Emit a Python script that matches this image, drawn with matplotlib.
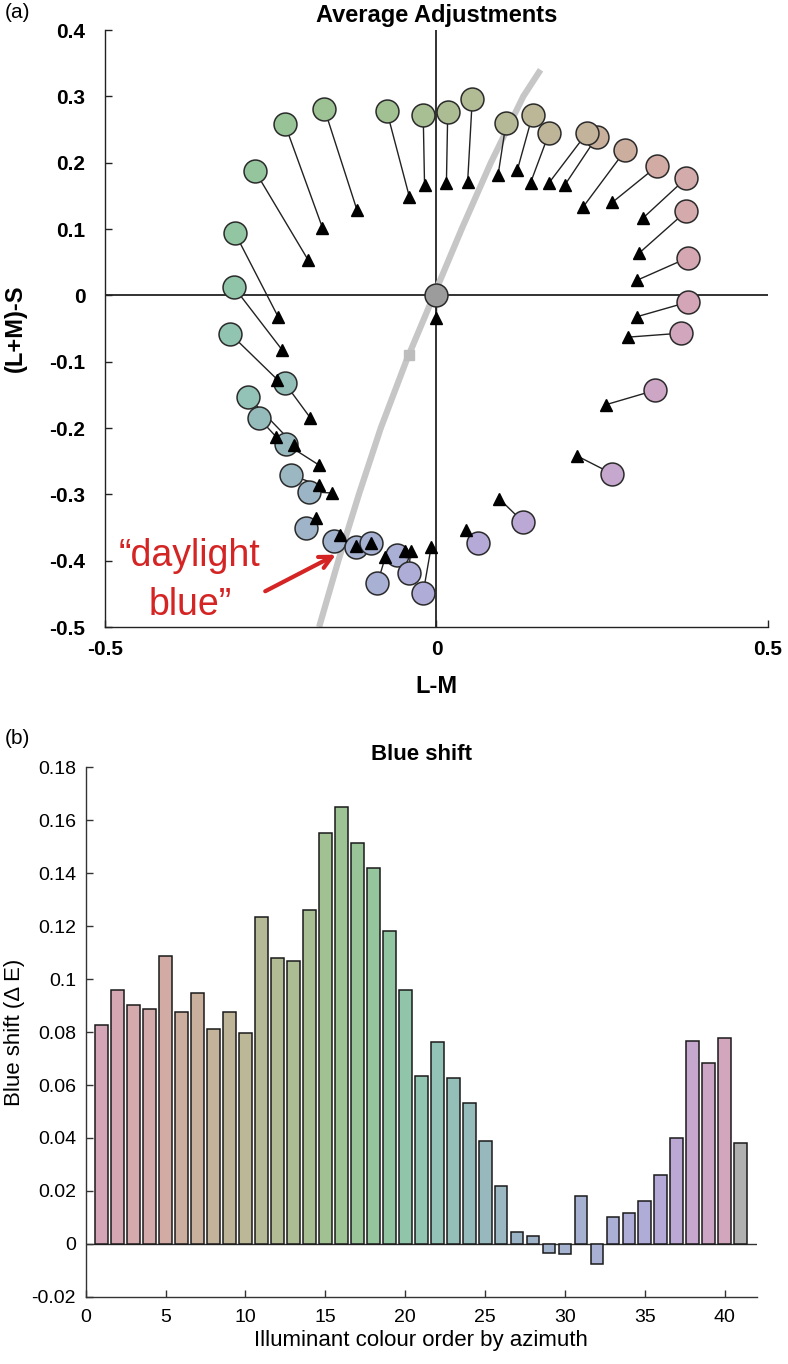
import matplotlib
matplotlib.use('Agg')
import matplotlib.pyplot as plt
from matplotlib.ticker import FuncFormatter

plt.rcParams['font.family'] = ['Liberation Sans', 'DejaVu Sans']
plt.rcParams['axes.unicode_minus'] = False

# ---- panel (a): illuminant settings (circles) and average adjustments (triangles), ordered by azimuth
ill_lm = [0.380, 0.380, 0.377, 0.377, 0.333, 0.285, 0.242, 0.227, 0.170, 0.145,
          0.105, 0.054, 0.017, -0.020, -0.075, -0.169, -0.229, -0.274, -0.304, -0.306,
          -0.311, -0.284, -0.229, -0.268, -0.227, -0.220, -0.192, -0.197, -0.155, -0.122,
          -0.099, -0.089, -0.059, -0.042, -0.020, 0.063, 0.131, 0.265, 0.330, 0.369, 0.0]
ill_s = [-0.010, 0.057, 0.127, 0.177, 0.195, 0.219, 0.239, 0.245, 0.245, 0.272,
         0.260, 0.296, 0.277, 0.272, 0.278, 0.281, 0.259, 0.188, 0.094, 0.013,
         -0.058, -0.153, -0.132, -0.185, -0.224, -0.271, -0.296, -0.351, -0.371, -0.379,
         -0.374, -0.434, -0.391, -0.419, -0.448, -0.374, -0.342, -0.269, -0.143, -0.057, 0.0]
adj_lm = [0.303, 0.303, 0.306, 0.312, 0.265, 0.221, 0.194, 0.170, 0.142, 0.122,
          0.093, 0.047, 0.015, -0.018, -0.041, -0.120, -0.172, -0.194, -0.239, -0.233,
          -0.240, -0.215, -0.190, -0.242, -0.177, -0.177, -0.157, -0.182, -0.146, -0.122,
          -0.099, -0.077, -0.047, -0.039, -0.008, 0.045, 0.095, 0.212, 0.255, 0.289, 0.0]
adj_s = [-0.032, 0.023, 0.064, 0.117, 0.140, 0.133, 0.167, 0.170, 0.170, 0.189,
         0.182, 0.171, 0.170, 0.167, 0.149, 0.129, 0.102, 0.054, -0.032, -0.082,
         -0.127, -0.225, -0.185, -0.213, -0.256, -0.286, -0.298, -0.336, -0.361, -0.378,
         -0.373, -0.394, -0.386, -0.386, -0.379, -0.354, -0.307, -0.242, -0.165, -0.063, -0.034]

# daylight locus
locus_lm = [-0.177, -0.148, -0.117, -0.084, -0.046, -0.004, 0.038, 0.082, 0.131, 0.157]
locus_s = [-0.500, -0.400, -0.300, -0.200, -0.100, 0.000, 0.100, 0.200, 0.300, 0.340]

# ---- panel (b): blue shift per illuminant
order = list(range(1, 42))
blue_shift = [0.0825, 0.0958, 0.0904, 0.0887, 0.1088, 0.0875, 0.0946, 0.0812, 0.0875, 0.0796,
              0.1233, 0.1078, 0.1070, 0.1261, 0.1551, 0.1651, 0.1514, 0.1418, 0.1183, 0.0960,
              0.0635, 0.0762, 0.0626, 0.0531, 0.0387, 0.0219, 0.0046, 0.0030, -0.0035, -0.0038,
              0.0182, -0.0076, 0.0101, 0.0118, 0.0163, 0.0259, 0.0398, 0.0768, 0.0684, 0.0777,
              0.0381]

colours = ['#d3a5b6', '#d4a7b2', '#d5aaad', '#d3abab', '#d2aca4', '#ccae9f', '#c8b09c', '#c3b39a',
           '#beb598', '#bbb797', '#b6b995', '#b1bb94', '#adbd93', '#a7bf93', '#a2c193', '#9dc395',
           '#98c498', '#94c59c', '#92c6a2', '#90c5a9', '#91c4b1', '#93c2b6', '#93bfb8', '#95bcbb',
           '#97b9be', '#9ab7c2', '#9cb5c6', '#9fb4c9', '#a2b3cd', '#a5b2d0', '#a6b1d2', '#a8b0d4',
           '#aaafd6', '#adadd7', '#b0acd8', '#b5aad7', '#bca8d4', '#c6a7cd', '#cda6c6', '#d2a6bd',
           '#b0b0b0']

fig = plt.figure(figsize=(7.88, 13.64), dpi=100)
fmt = FuncFormatter(lambda v, p: f"{v:g}")

# ================= (a)
ax = fig.add_axes([0.1332, 0.5403, 0.8414, 0.4377])
ax.plot([-0.5, 0.5], [0, 0], color='#222222', lw=1.3, zorder=1)
ax.plot([0, 0], [-0.5, 0.4], color='#222222', lw=1.3, zorder=1)
ax.plot(locus_lm, locus_s, color='#c6c6c6', lw=4.5, solid_capstyle='butt',
        solid_joinstyle='round', zorder=2)
ax.plot([-0.042], [-0.09], 's', color='#bdbdbd', ms=7, zorder=2)

for i in range(len(ill_lm)):
    ax.plot([ill_lm[i], adj_lm[i]], [ill_s[i], adj_s[i]], color='#222222', lw=1.0, zorder=3)
for i in range(len(ill_lm)):
    fc = '#9c9c9c' if i == len(ill_lm) - 1 else colours[i]
    ax.plot(ill_lm[i], ill_s[i], 'o', ms=16.5, mfc=fc, mec='#2a2a2a', mew=1.1, zorder=4)
    ax.plot(adj_lm[i], adj_s[i], '^', ms=9, color='black', zorder=5)

ax.set_xlim(-0.5, 0.5)
ax.set_ylim(-0.5, 0.4)
ax.spines['top'].set_visible(False)
ax.spines['right'].set_visible(False)
for s in ['left', 'bottom']:
    ax.spines[s].set_color('#222222')
    ax.spines[s].set_linewidth(1.0)
ax.set_xticks([-0.5, 0, 0.5])
ax.set_yticks([0.4, 0.3, 0.2, 0.1, 0, -0.1, -0.2, -0.3, -0.4, -0.5])
ax.xaxis.set_major_formatter(fmt)
ax.yaxis.set_major_formatter(fmt)
ax.tick_params(direction='in', length=5, width=1.0, color='#222222', labelsize=15)
ax.tick_params(axis='y', pad=14)
ax.tick_params(axis='x', pad=9)
for lab in ax.get_xticklabels() + ax.get_yticklabels():
    lab.set_fontweight('bold')
ax.set_xlabel('L-M', fontsize=17, fontweight='bold', labelpad=12)
ax.set_ylabel('(L+M)-S', fontsize=17, fontweight='bold', labelpad=16)
ax.set_title('Average Adjustments', fontsize=17, fontweight='bold', pad=6)

ax.text(-0.372, -0.366, '\u201cdaylight\nblue\u201d', color='#d42424', fontsize=27,
        ha='center', va='top', multialignment='center', linespacing=1.45)
ax.annotate('', xy=(-0.148, -0.389), xytext=(-0.262, -0.448),
            arrowprops=dict(arrowstyle='->', color='#d42424', lw=3, mutation_scale=22))

fig.text(0.006, 1 - 13 / 1364, '(a)', fontsize=15, va='center')

# ================= (b)
bx = fig.add_axes([0.1088, 0.0493, 0.8515, 0.3881])
bx.bar(order, blue_shift, width=0.8, color=colours, edgecolor='#1a1a1a', linewidth=1.1, zorder=3)
bx.axhline(0, color='#333333', lw=1.0, zorder=2)
bx.set_xlim(0, 42)
bx.set_ylim(-0.02, 0.18)
bx.set_xticks(range(0, 41, 5))
bx.set_yticks([-0.02, 0, 0.02, 0.04, 0.06, 0.08, 0.1, 0.12, 0.14, 0.16, 0.18])
bx.yaxis.set_major_formatter(fmt)
bx.spines['top'].set_visible(False)
bx.spines['right'].set_visible(False)
for s in ['left', 'bottom']:
    bx.spines[s].set_color('#333333')
    bx.spines[s].set_linewidth(1.0)
bx.tick_params(direction='in', length=5, width=1.0, color='#333333', labelsize=14)
bx.tick_params(axis='y', pad=7)
bx.tick_params(axis='x', pad=9)
bx.set_xlabel('Illuminant colour order by azimuth', fontsize=16, labelpad=3)
bx.set_ylabel('Blue shift (\u0394 E)', fontsize=16, labelpad=5)
bx.set_title('Blue shift', fontsize=16, fontweight='bold', pad=5)

fig.text(0.006, 1 - 739 / 1364, '(b)', fontsize=15, va='center')

fig.savefig('out.png', dpi=100)
